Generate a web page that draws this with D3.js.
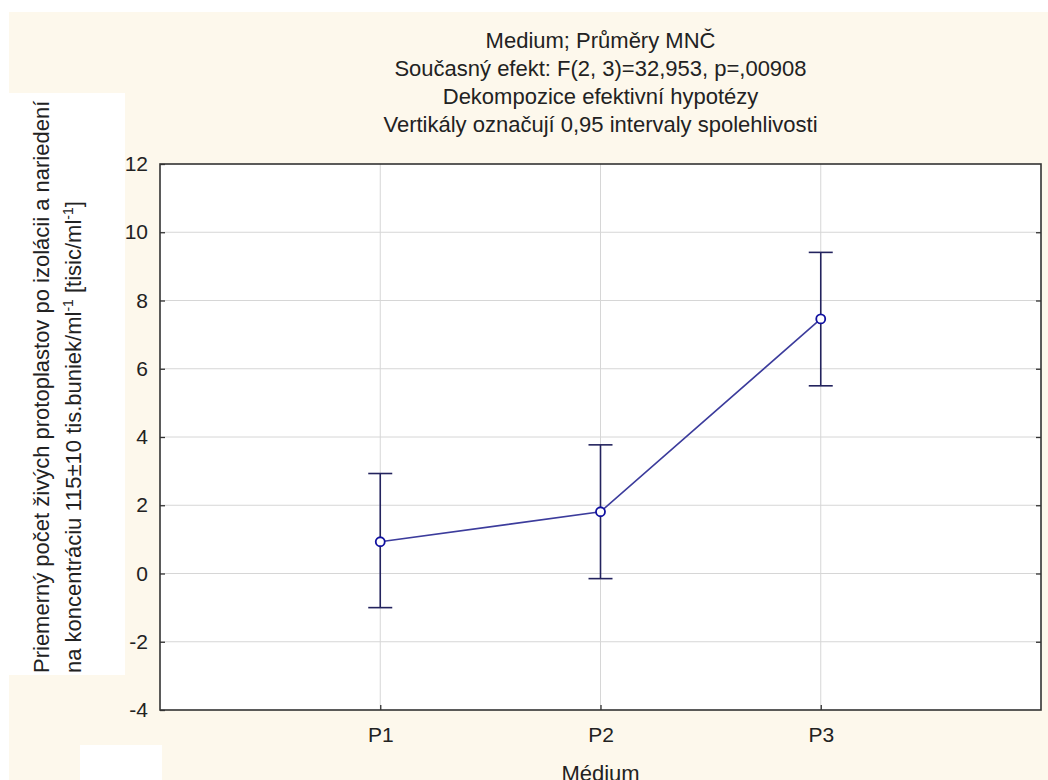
<!DOCTYPE html>
<html>
<head>
<meta charset="utf-8">
<script src="https://cdn.jsdelivr.net/npm/d3@7"></script>
<style>
  body { margin: 0; background: #fff; }
  text { font-family: "Liberation Sans", Arial, sans-serif; fill: #222; }
</style>
</head>
<body>
<script>
// data
var categories = ["P1", "P2", "P3"];
var means = [0.93, 1.81, 7.46];
var lower = [-1.0, -0.15, 5.50];
var upper = [2.93, 3.77, 9.41];
var yTicks = [-4, -2, 0, 2, 4, 6, 8, 10, 12];
var titleLines = [
  "Medium; Průměry MNČ",
  "Současný efekt: F(2, 3)=32,953, p=,00908",
  "Dekompozice efektivní hypotézy",
  "Vertikály označují 0,95 intervaly spolehlivosti"
];
var xTitle = "Médium";

function draw() {
  var w = 1048,
      h = 780;
  var pl = 160, pr = 1041, pt = 164, pb = 710;
  var bgCol = "#fdf8ec";
  var fs = "22px";

  var svg = d3.select("body").append("svg")
      .attr("width", w)
      .attr("height", h);

  // background, with the odd white patches of the screenshot
  svg.append("rect").attr("width", w).attr("height", h).attr("fill", "#fff");
  svg.append("rect").attr("x", 9).attr("y", 12).attr("width", w - 9).attr("height", h - 12).attr("fill", bgCol);
  svg.append("rect").attr("x", 9).attr("y", 93).attr("width", 116).attr("height", 582).attr("fill", "#fff");
  svg.append("rect").attr("x", 80).attr("y", 745).attr("width", 82).attr("height", 35).attr("fill", "#fff");

  // plot area
  svg.append("rect")
    .attr("x", pl).attr("y", pt)
    .attr("width", pr - pl).attr("height", pb - pt)
    .attr("fill", "#fff");

  var x = d3.scaleLinear().domain([0, categories.length + 1]).range([pl, pr]);
  var y = d3.scaleLinear().domain([-4, 12]).range([pb, pt]);

  // grid lines
  svg.append("g").selectAll("line")
    .data(yTicks.slice(1, -1))
    .enter().append("line")
    .attr("x1", pl).attr("x2", pr)
    .attr("y1", function(d) { return y(d); })
    .attr("y2", function(d) { return y(d); })
    .attr("stroke", "#d6d6d6")
    .attr("stroke-width", 1);

  svg.append("g").selectAll("line")
    .data(categories)
    .enter().append("line")
    .attr("x1", function(d, i) { return x(i + 1); })
    .attr("x2", function(d, i) { return x(i + 1); })
    .attr("y1", pt).attr("y2", pb)
    .attr("stroke", "#d6d6d6")
    .attr("stroke-width", 1);

  // axes
  var yAxis = svg.append("g")
    .attr("transform", "translate(" + pl + ",0)")
    .call(d3.axisLeft(y).tickValues(yTicks).tickSizeInner(-5).tickSizeOuter(0).tickPadding(12)
      .tickFormat(function(d) { return String(d); }));

  var yAxisR = svg.append("g")
    .attr("transform", "translate(" + pr + ",0)")
    .call(d3.axisRight(y).tickValues(yTicks.slice(1, -1)).tickSizeInner(-5).tickSizeOuter(0).tickFormat(""));

  var xAxis = svg.append("g")
    .attr("transform", "translate(0," + pb + ")")
    .call(d3.axisBottom(x).tickValues([1, 2, 3]).tickSizeInner(-5).tickSizeOuter(0).tickPadding(17)
      .tickFormat(function(d) { return categories[d - 1]; }));

  [yAxis, yAxisR, xAxis].forEach(function(g) {
    g.select(".domain").remove();
    g.selectAll(".tick line").attr("stroke", "#333").attr("stroke-width", 1.3);
    g.selectAll("text")
      .style("font-family", "'Liberation Sans', Arial, sans-serif")
      .style("font-size", "21px")
      .attr("fill", "#222");
  });

  // frame
  svg.append("rect")
    .attr("x", pl).attr("y", pt)
    .attr("width", pr - pl).attr("height", pb - pt)
    .attr("fill", "none")
    .attr("stroke", "#333")
    .attr("stroke-width", 1.6);

  // error bars
  var bars = svg.append("g").selectAll("g")
    .data(categories)
    .enter().append("g");

  bars.append("line")
    .attr("x1", function(d, i) { return x(i + 1); })
    .attr("x2", function(d, i) { return x(i + 1); })
    .attr("y1", function(d, i) { return y(lower[i]); })
    .attr("y2", function(d, i) { return y(upper[i]); })
    .attr("stroke", "#23235e")
    .attr("stroke-width", 1.6);

  bars.append("line")
    .attr("x1", function(d, i) { return x(i + 1) - 12; })
    .attr("x2", function(d, i) { return x(i + 1) + 12; })
    .attr("y1", function(d, i) { return y(upper[i]); })
    .attr("y2", function(d, i) { return y(upper[i]); })
    .attr("stroke", "#23235e")
    .attr("stroke-width", 1.6);

  bars.append("line")
    .attr("x1", function(d, i) { return x(i + 1) - 12; })
    .attr("x2", function(d, i) { return x(i + 1) + 12; })
    .attr("y1", function(d, i) { return y(lower[i]); })
    .attr("y2", function(d, i) { return y(lower[i]); })
    .attr("stroke", "#23235e")
    .attr("stroke-width", 1.6);

  // mean line
  var line = d3.line()
    .x(function(d, i) { return x(i + 1); })
    .y(function(d) { return y(d); });

  svg.append("path")
    .attr("d", line(means))
    .attr("fill", "none")
    .attr("stroke", "#3c3c9c")
    .attr("stroke-width", 1.6);

  svg.append("g").selectAll("circle")
    .data(means)
    .enter().append("circle")
    .attr("cx", function(d, i) { return x(i + 1); })
    .attr("cy", function(d) { return y(d); })
    .attr("r", 4.5)
    .attr("fill", "#fff")
    .attr("stroke", "#1010a0")
    .attr("stroke-width", 1.8);

  // title
  svg.append("g").selectAll("text")
    .data(titleLines)
    .enter().append("text")
    .attr("x", (pl + pr) / 2)
    .attr("y", function(d, i) { return 48 + i * 28; })
    .attr("text-anchor", "middle")
    .style("font-size", fs)
    .text(function(d) { return d; });

  // x axis title (cut by the bottom edge, as in the screenshot)
  svg.append("text")
    .attr("x", (pl + pr) / 2)
    .attr("y", 781)
    .attr("text-anchor", "middle")
    .style("font-size", fs)
    .text(xTitle);

  // y axis title, two lines
  svg.append("text")
    .attr("transform", "translate(49,673) rotate(-90)")
    .style("font-size", fs)
    .text("Priemerný počet živých protoplastov po izolácii a nariedení");

  var yl2 = svg.append("text")
    .attr("transform", "translate(81,673) rotate(-90)")
    .style("font-size", fs);
  yl2.append("tspan").text("na koncentráciu 115±10 tis.buniek/ml");
  yl2.append("tspan").attr("dy", -8).style("font-size", "14px").text("-1");
  yl2.append("tspan").attr("dy", 8).text(" [tisic/ml");
  yl2.append("tspan").attr("dy", -8).style("font-size", "14px").text("-1");
  yl2.append("tspan").attr("dy", 8).text("]");
}

draw();
</script>
</body>
</html>
